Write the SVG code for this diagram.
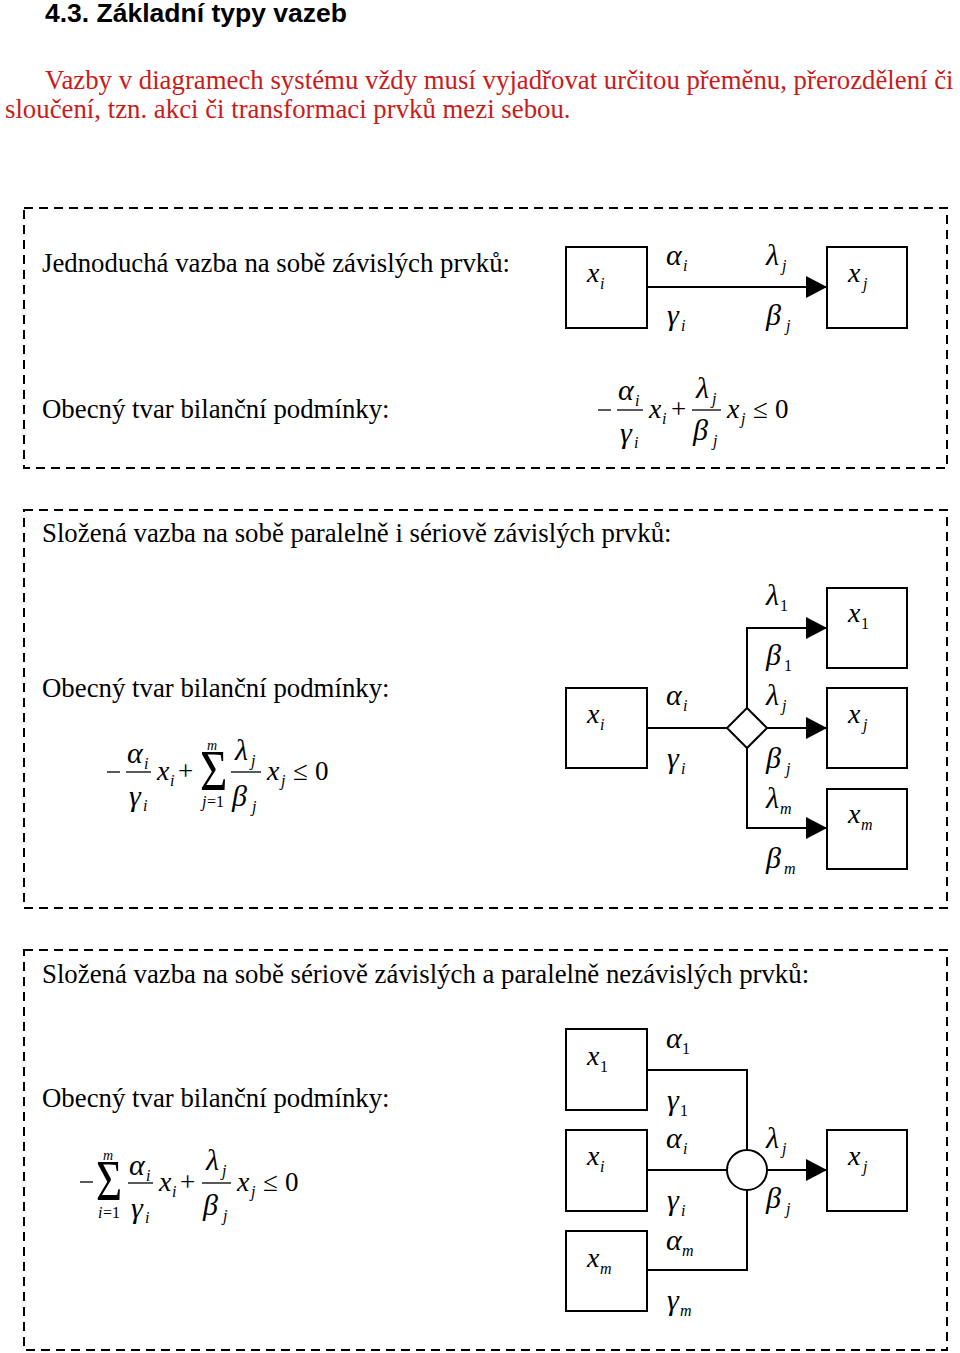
<svg xmlns="http://www.w3.org/2000/svg" width="960" height="1353" viewBox="0 0 960 1353">
<defs>
<style>
.h{font-family:"Liberation Sans",Arial,sans-serif;font-weight:bold;font-size:26.5px;fill:#000}
.r{font-family:"Liberation Serif","Times New Roman",serif;font-size:26.8px;fill:#cc1a1a}
.t{font-family:"Liberation Serif","Times New Roman",serif;font-size:26.8px;fill:#000}
.g{font-family:"Liberation Serif","Times New Roman",serif;font-style:italic;font-size:30px;fill:#000}
.v{font-family:"Liberation Serif","Times New Roman",serif;font-style:italic;font-size:28px;fill:#000}
.s{font-family:"Liberation Serif","Times New Roman",serif;font-style:italic;font-size:16px;fill:#000}
.n{font-family:"Liberation Serif","Times New Roman",serif;font-size:16px;fill:#000}
.o{font-family:"Liberation Serif","Times New Roman",serif;font-size:27px;fill:#000}
.sig{font-family:"Liberation Serif","Times New Roman",serif;font-size:56px;fill:#000}
.frame{fill:none;stroke:#000;stroke-width:2;stroke-dasharray:9 6}
.box{fill:#fff;stroke:#000;stroke-width:2}
.ln{fill:none;stroke:#000;stroke-width:2}
.bar{stroke:#000;stroke-width:1.3}
</style>
<marker id="ar" markerUnits="userSpaceOnUse" markerWidth="22" markerHeight="22" refX="21" refY="11" orient="auto">
<path d="M0,0 L21,11 L0,22 z" fill="#000"/>
</marker>
</defs>
<rect width="960" height="1353" fill="#fff"/>

<g id="header">
<text class="h" x="45" y="22">4.3. Základní typy vazeb</text>
<text class="r" x="45" y="89">Vazby v diagramech systému vždy musí vyjadřovat určitou přeměnu, přerozdělení či</text>
<text class="r" x="5" y="118">sloučení, tzn. akci či transformaci prvků mezi sebou.</text>
</g>

<g id="frames">
<rect class="frame" x="24" y="208" width="923" height="260"/>
<rect class="frame" x="24" y="510" width="923" height="398"/>
<rect class="frame" x="24" y="950" width="923" height="400"/>
</g>

<g id="panel1-text">
<text class="t" x="42" y="272">Jednoduchá vazba na sobě závislých prvků:</text>
<text class="t" x="42" y="418">Obecný tvar bilanční podmínky:</text>
</g>

<g id="connectors">
<line class="ln" x1="647" y1="287" x2="827" y2="287" marker-end="url(#ar)"/>
<line class="ln" x1="647" y1="728" x2="727" y2="728"/>
<polyline class="ln" points="747,708 747,628 827,628" marker-end="url(#ar)"/>
<line class="ln" x1="767" y1="728" x2="827" y2="728" marker-end="url(#ar)"/>
<polyline class="ln" points="747,748 747,828 827,828" marker-end="url(#ar)"/>
<polyline class="ln" points="647,1070 747,1070 747,1150"/>
<line class="ln" x1="647" y1="1170" x2="727" y2="1170"/>
<polyline class="ln" points="647,1270 747,1270 747,1190"/>
<line class="ln" x1="767" y1="1170" x2="827" y2="1170" marker-end="url(#ar)"/>
</g>

<g id="p1-xi">
<rect class="box" x="566" y="247" width="81" height="81"/>
<text class="v" x="587" y="282">x</text><text class="s" x="600" y="289">i</text>
</g>
<g id="p1-xj">
<rect class="box" x="827" y="247" width="80" height="81"/>
<text class="v" x="848" y="282">x</text><text class="s" x="863" y="289">j</text>
</g>
<g id="p1-labels">
<text class="g" x="666" y="265">α</text><text class="s" x="683" y="271">i</text>
<text class="g" x="766" y="265">λ</text><text class="s" x="782" y="271">j</text>
<text class="g" x="667" y="325">γ</text><text class="s" x="681" y="331">i</text>
<text class="g" x="766" y="325">β</text><text class="s" x="786" y="331">j</text>
</g>
<g id="p1-formula">
<line class="bar" x1="598" y1="410" x2="611" y2="410"/>
<text class="g" x="618" y="400">α</text><text class="s" x="635" y="406">i</text>
<line class="bar" x1="617" y1="410" x2="643" y2="410"/>
<text class="g" x="620" y="443">γ</text><text class="s" x="634" y="448">i</text>
<text class="v" x="649" y="418">x</text><text class="s" x="662" y="424">i</text>
<text class="o" x="671" y="418">+</text>
<text class="g" x="696" y="398">λ</text><text class="s" x="712" y="404">j</text>
<line class="bar" x1="692" y1="410" x2="721" y2="410"/>
<text class="g" x="693" y="440">β</text><text class="s" x="713" y="446">j</text>
<text class="v" x="727" y="418">x</text><text class="s" x="741" y="424">j</text>
<text class="o" x="753" y="418">≤</text>
<text class="o" x="775" y="418">0</text>
</g>

<g id="panel2-text">
<text class="t" x="42" y="542">Složená vazba na sobě paralelně i sériově závislých prvků:</text>
<text class="t" x="42" y="697">Obecný tvar bilanční podmínky:</text>
</g>
<g id="p2-xi">
<rect class="box" x="566" y="688" width="81" height="80"/>
<text class="v" x="587" y="723">x</text><text class="s" x="600" y="730">i</text>
</g>
<g id="p2-diamond">
<polygon class="box" points="747,708 767,728 747,748 727,728"/>
</g>
<g id="p2-x1">
<rect class="box" x="827" y="588" width="80" height="80"/>
<text class="v" x="848" y="622">x</text><text class="n" x="861" y="629">1</text>
</g>
<g id="p2-xj">
<rect class="box" x="827" y="688" width="80" height="80"/>
<text class="v" x="848" y="723">x</text><text class="s" x="863" y="730">j</text>
</g>
<g id="p2-xm">
<rect class="box" x="827" y="789" width="80" height="80"/>
<text class="v" x="848" y="823">x</text><text class="s" x="861" y="830">m</text>
</g>
<g id="p2-labels">
<text class="g" x="766" y="605">λ</text><text class="n" x="780" y="611">1</text>
<text class="g" x="766" y="665">β</text><text class="n" x="784" y="671">1</text>
<text class="g" x="766" y="705">λ</text><text class="s" x="782" y="711">j</text>
<text class="g" x="766" y="768">β</text><text class="s" x="786" y="774">j</text>
<text class="g" x="766" y="808">λ</text><text class="s" x="780" y="814">m</text>
<text class="g" x="766" y="868">β</text><text class="s" x="784" y="874">m</text>
<text class="g" x="666" y="705">α</text><text class="s" x="683" y="711">i</text>
<text class="g" x="667" y="768">γ</text><text class="s" x="681" y="774">i</text>
</g>
<g id="p2-formula">
<line class="bar" x1="107" y1="772" x2="120" y2="772"/>
<text class="g" x="127" y="763">α</text><text class="s" x="144" y="769">i</text>
<line class="bar" x1="126" y1="772" x2="151" y2="772"/>
<text class="g" x="129" y="806">γ</text><text class="s" x="143" y="811">i</text>
<text class="v" x="157" y="780">x</text><text class="s" x="170" y="786">i</text>
<text class="o" x="178" y="780">+</text>
<text class="sig" transform="translate(200,790) scale(0.84,1)">Σ</text>
<text class="s" x="207" y="750" style="font-size:14px">m</text>
<text class="s" x="202" y="807">j</text><text class="n" x="207" y="807">=1</text>
<text class="g" x="235" y="760">λ</text><text class="s" x="251" y="766">j</text>
<line class="bar" x1="231" y1="772" x2="261" y2="772"/>
<text class="g" x="232" y="806">β</text><text class="s" x="252" y="812">j</text>
<text class="v" x="267" y="780">x</text><text class="s" x="281" y="786">j</text>
<text class="o" x="293" y="780">≤</text>
<text class="o" x="315" y="780">0</text>
</g>

<g id="panel3-text">
<text class="t" x="42" y="983">Složená vazba na sobě sériově závislých a paralelně nezávislých prvků:</text>
<text class="t" x="42" y="1107">Obecný tvar bilanční podmínky:</text>
</g>
<g id="p3-x1">
<rect class="box" x="566" y="1029" width="81" height="81"/>
<text class="v" x="587" y="1065">x</text><text class="n" x="600" y="1072">1</text>
</g>
<g id="p3-xi">
<rect class="box" x="566" y="1130" width="81" height="81"/>
<text class="v" x="587" y="1165">x</text><text class="s" x="600" y="1172">i</text>
</g>
<g id="p3-xm">
<rect class="box" x="566" y="1231" width="81" height="80"/>
<text class="v" x="587" y="1267">x</text><text class="s" x="600" y="1274">m</text>
</g>
<g id="p3-circle">
<circle class="box" cx="747" cy="1170" r="20"/>
</g>
<g id="p3-xj">
<rect class="box" x="827" y="1130" width="80" height="81"/>
<text class="v" x="848" y="1165">x</text><text class="s" x="863" y="1172">j</text>
</g>
<g id="p3-labels">
<text class="g" x="666" y="1048">α</text><text class="n" x="682" y="1054">1</text>
<text class="g" x="667" y="1110">γ</text><text class="n" x="680" y="1116">1</text>
<text class="g" x="666" y="1148">α</text><text class="s" x="683" y="1154">i</text>
<text class="g" x="667" y="1210">γ</text><text class="s" x="681" y="1216">i</text>
<text class="g" x="666" y="1250">α</text><text class="s" x="682" y="1256">m</text>
<text class="g" x="667" y="1310">γ</text><text class="s" x="680" y="1316">m</text>
<text class="g" x="766" y="1148">λ</text><text class="s" x="782" y="1154">j</text>
<text class="g" x="766" y="1208">β</text><text class="s" x="786" y="1214">j</text>
</g>
<g id="p3-formula">
<line class="bar" x1="80" y1="1182" x2="93" y2="1182"/>
<text class="sig" transform="translate(96,1200) scale(0.8,1)">Σ</text>
<text class="s" x="103" y="1160" style="font-size:14px">m</text>
<text class="s" x="98" y="1218">i</text><text class="n" x="103" y="1218">=1</text>
<text class="g" x="129" y="1175">α</text><text class="s" x="146" y="1181">i</text>
<line class="bar" x1="128" y1="1183" x2="153" y2="1183"/>
<text class="g" x="131" y="1218">γ</text><text class="s" x="145" y="1223">i</text>
<text class="v" x="159" y="1191">x</text><text class="s" x="172" y="1197">i</text>
<text class="o" x="180" y="1191">+</text>
<text class="g" x="206" y="1170">λ</text><text class="s" x="222" y="1176">j</text>
<line class="bar" x1="202" y1="1183" x2="231" y2="1183"/>
<text class="g" x="203" y="1215">β</text><text class="s" x="223" y="1221">j</text>
<text class="v" x="237" y="1191">x</text><text class="s" x="251" y="1197">j</text>
<text class="o" x="263" y="1191">≤</text>
<text class="o" x="285" y="1191">0</text>
</g>
</svg>
